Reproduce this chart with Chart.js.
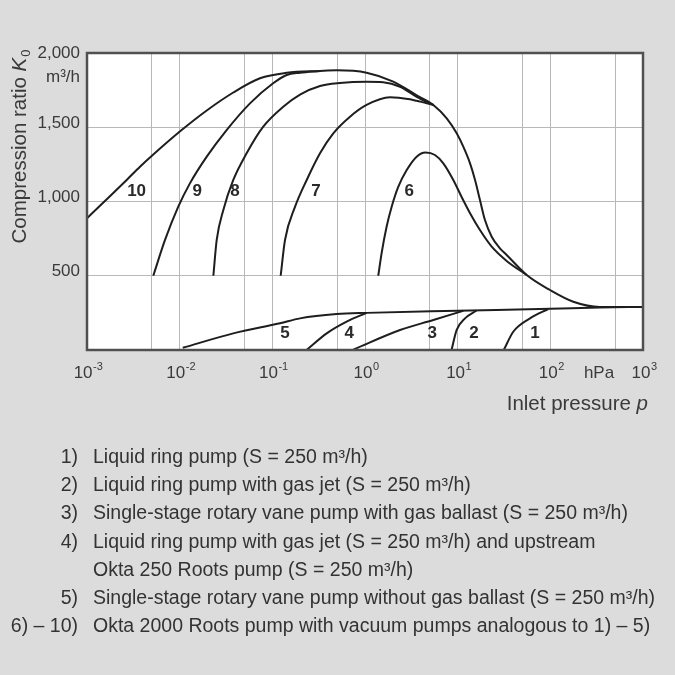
<!DOCTYPE html>
<html>
<head>
<meta charset="utf-8">
<script src="https://cdn.jsdelivr.net/npm/chart.js@4.4.0/dist/chart.umd.min.js"></script>
<style>
  html, body { margin: 0; padding: 0; background: #dcdcdc; }
  #wrap { position: relative; width: 675px; height: 675px; overflow: hidden; background: #dcdcdc; }
  #chart { position: absolute; left: 0; top: 0; }
  .note { position: absolute; left: 0; width: 675px; height: 24px; line-height: 24px;
          font-family: 'Liberation Sans', Arial, sans-serif; font-size: 19.5px; color: #333; white-space: nowrap; }
  .note .num { position: absolute; right: 597px; text-align: right; }
  .note .txt { position: absolute; left: 93px; }
</style>
</head>
<body>
<div id="wrap">
  <canvas id="chart" width="675" height="675"></canvas>
  <div id="notes"></div>
</div>
<script>
// ─── DATA (inlet pressure p in hPa, compression ratio K0) ─────
const curve1P  = [31.6, 39.8, 60.3, 95.0];
const curve1K  = [3, 123, 213, 276];
const curve2P  = [8.61, 9.76, 12.0, 16.0];
const curve2K  = [3, 135, 213, 266];
const curve3P  = [0.748, 2.39, 5.46, 11.5];
const curve3K  = [3, 135, 202, 264];
const curve4P  = [0.237, 0.386, 0.634, 1.04];
const curve4K  = [3, 112, 191, 250];
const curve5P  = [0.0108, 0.0379, 0.121, 0.199, 0.494, 1.04, 10, 100, 340, 1000];
const curve5K  = [15, 112, 180, 213, 242, 250, 264, 277, 286, 290];

const curve6P  = [1.39, 1.51, 1.71, 1.94, 2.29, 2.82, 3.61, 4.5, 5.69, 7.0, 8.97, 11.0, 13.6, 17.4, 23.3, 33.8, 55.6];
const curve6K  = [500, 651, 830, 965, 1100, 1212, 1302, 1330, 1313, 1257, 1145, 1032, 921, 808, 696, 600, 505];
const curve7P  = [0.123, 0.137, 0.176, 0.235, 0.327, 0.455, 0.689, 1.04, 1.86, 3.06, 3.61, 5.46];
const curve7K  = [500, 741, 965, 1145, 1325, 1459, 1571, 1650, 1702, 1688, 1678, 1650];
const curve8P  = [0.0231, 0.0251, 0.0296, 0.0379, 0.0528, 0.0798, 0.131, 0.199, 0.327, 0.537, 1.04, 1.57, 2.39, 3.61, 5.46];
const curve8K  = [500, 741, 943, 1145, 1325, 1504, 1638, 1720, 1778, 1798, 1806, 1803, 1773, 1705, 1650];
const curve9P  = [0.00519, 0.00695, 0.00966, 0.0129, 0.0196, 0.0321, 0.0574, 0.102, 0.143, 0.199, 0.327];
const curve9K  = [500, 741, 965, 1122, 1302, 1481, 1661, 1796, 1852, 1867, 1879];
const curve10P = [0.001, 0.00268, 0.00373, 0.00512, 0.0105, 0.0196, 0.0379, 0.0736, 0.143, 0.327, 0.494, 1.04, 2.02, 3.61, 5.46, 7.62, 9.76, 11.5, 13.6, 15.4, 17.4, 19.7, 23.3, 28.6, 33.8, 55.6, 99.1, 177, 343, 1000];
const curve10K = [887, 1145, 1234, 1313, 1481, 1613, 1734, 1830, 1867, 1879, 1883, 1867, 1807, 1715, 1650, 1560, 1459, 1369, 1257, 1145, 1010, 875, 763, 685, 640, 505, 404, 325, 290, 290];

// curve number labels, placed in data space
const curveLabels = ['1', '2', '3', '4', '5', '6', '7', '8', '9', '10'];
const curveLabelP = [68.3, 15.0, 5.32, 0.676, 0.137, 3.0, 0.296, 0.0395, 0.0155, 0.00343];
const curveLabelK = [112, 112, 112, 112, 112, 1071, 1071, 1071, 1071, 1071];

// axes
const xGridValues  = [0.001, 0.005, 0.01, 0.05, 0.1, 0.5, 1, 5, 10, 50, 100, 500, 1000];
const xTickPowers  = [-3, -2, -1, 0, 1, 2, 3];
const yTickValues  = [500, 1000, 1500, 2000];
const yTickLabels  = ['500', '1,000', '1,500', '2,000'];

// notes under the chart
const noteNums  = ['1)', '2)', '3)', '4)', '', '5)', '6) – 10)'];
const noteTexts = [
  'Liquid ring pump (S = 250 m³/h)',
  'Liquid ring pump with gas jet (S = 250 m³/h)',
  'Single-stage rotary vane pump with gas ballast (S = 250 m³/h)',
  'Liquid ring pump with gas jet (S = 250 m³/h) and upstream',
  'Okta 250 Roots pump (S = 250 m³/h)',
  'Single-stage rotary vane pump without gas ballast (S = 250 m³/h)',
  'Okta 2000 Roots pump with vacuum pumps analogous to 1) – 5)'
];


// ─── NOTES ──────────────────────────────
const notesEl = document.getElementById('notes');
notesEl.innerHTML = noteTexts.map((t, i) => `
  <div class="note" style="top:${444 + i * 28.2}px">
    <span class="num">${noteNums[i]}</span><span class="txt">${t}</span>
  </div>`).join('');


// ─── CHART ──────────────────────────────
const INK = '#1e1e1e';
const TXT = '#3a3a3a';
const FONT = "'Liberation Sans', Arial, sans-serif";

const pairs = (P, K) => P.map((p, i) => ({ x: p, y: K[i] }));
const allCurves = [
  [curve1P, curve1K], [curve2P, curve2K], [curve3P, curve3K], [curve4P, curve4K], [curve5P, curve5K],
  [curve6P, curve6K], [curve7P, curve7K], [curve8P, curve8K], [curve9P, curve9K], [curve10P, curve10K]
];

// axis texts, plot frame and curve numbers
const decorPlugin = {
  id: 'decor',
  afterDatasetsDraw(chart) {
    const { ctx, chartArea: a, scales: { x, y } } = chart;
    ctx.save();
    ctx.strokeStyle = '#505050';
    ctx.lineWidth = 2.5;
    ctx.strokeRect(a.left, a.top, a.right - a.left, a.bottom - a.top);

    ctx.fillStyle = '#2a2a2a';
    ctx.font = `bold 17px ${FONT}`;
    ctx.textAlign = 'center';
    ctx.textBaseline = 'middle';
    curveLabels.forEach((t, i) => {
      ctx.fillText(t, x.getPixelForValue(curveLabelP[i]), y.getPixelForValue(curveLabelK[i]));
    });
    ctx.restore();
  },
  afterDraw(chart) {
    const { ctx, scales: { x, y } } = chart;
    ctx.save();
    ctx.fillStyle = TXT;

    // y tick labels
    ctx.font = `17px ${FONT}`;
    ctx.textAlign = 'right';
    ctx.textBaseline = 'middle';
    yTickValues.forEach((v, i) => {
      ctx.fillText(yTickLabels[i], 80, y.getPixelForValue(v) - 4 + (v === 2000 ? 4 : 0));
    });
    ctx.fillText('m³/h', 80, 77);

    // x tick labels 10^n
    ctx.textBaseline = 'alphabetic';
    ctx.textAlign = 'left';
    xTickPowers.forEach(n => {
      const px = x.getPixelForValue(Math.pow(10, n));
      const exp = String(n);
      ctx.font = `17px ${FONT}`;
      const wb = ctx.measureText('10').width;
      ctx.font = `11px ${FONT}`;
      const we = ctx.measureText(exp).width;
      const x0 = px - (wb + we) / 2 + 1;
      ctx.font = `17px ${FONT}`;
      ctx.fillText('10', x0, 378);
      ctx.font = `11px ${FONT}`;
      ctx.fillText(exp, x0 + wb + 0.5, 370);
    });
    ctx.font = `17px ${FONT}`;
    ctx.textAlign = 'center';
    ctx.fillText('hPa', 599, 378);

    // x axis title
    ctx.textAlign = 'left';
    const t1 = 'Inlet pressure ';
    ctx.font = `italic 20.5px ${FONT}`;
    const wp = ctx.measureText('p').width;
    ctx.font = `20.5px ${FONT}`;
    const w1 = ctx.measureText(t1).width;
    const xs = 648 - w1 - wp;
    ctx.fillText(t1, xs, 410);
    ctx.font = `italic 20.5px ${FONT}`;
    ctx.fillText('p', xs + w1, 410);

    // y axis title (rotated)
    ctx.translate(26, 147);
    ctx.rotate(-Math.PI / 2);
    const t2 = 'Compression ratio ';
    ctx.font = `20.5px ${FONT}`;
    const w2 = ctx.measureText(t2).width;
    ctx.font = `italic 20.5px ${FONT}`;
    const wk = ctx.measureText('K').width;
    ctx.font = `13px ${FONT}`;
    const w0 = ctx.measureText('0').width;
    const start = -(w2 + wk + w0) / 2;
    ctx.font = `20.5px ${FONT}`;
    ctx.fillText(t2, start, 0);
    ctx.font = `italic 20.5px ${FONT}`;
    ctx.fillText('K', start + w2, 0);
    ctx.font = `13px ${FONT}`;
    ctx.fillText('0', start + w2 + wk + 1, 4);
    ctx.restore();
  }
};

new Chart(document.getElementById('chart').getContext('2d'), {
  type: 'line',
  data: {
    datasets: allCurves.map(([P, K], i) => ({
      label: 'Curve ' + (i + 1),
      data: pairs(P, K),
      borderColor: INK,
      borderWidth: 2,
      pointRadius: 0,
      fill: false,
      cubicInterpolationMode: 'monotone'
    }))
  },
  options: {
    responsive: false,
    animation: false,
    layout: { padding: { left: 87, top: 53, right: 32, bottom: 325 } },
    plugins: { legend: { display: false }, tooltip: { enabled: false } },
    scales: {
      x: {
        type: 'logarithmic',
        min: 0.001,
        max: 1000,
        afterBuildTicks: axis => { axis.ticks = xGridValues.map(v => ({ value: v })); },
        grid: { color: '#b8b8b8', lineWidth: 1, drawTicks: false },
        border: { display: false },
        ticks: { display: false }
      },
      y: {
        type: 'linear',
        min: 0,
        max: 2000,
        afterBuildTicks: axis => { axis.ticks = [0].concat(yTickValues).map(v => ({ value: v })); },
        grid: { color: '#b8b8b8', lineWidth: 1, drawTicks: false },
        border: { display: false },
        ticks: { display: false }
      }
    }
  },
  plugins: [
    {
      id: 'plotBg',
      beforeDraw(chart) {
        const { ctx, chartArea: a } = chart;
        ctx.save();
        ctx.fillStyle = '#ffffff';
        ctx.fillRect(a.left, a.top, a.right - a.left, a.bottom - a.top);
        ctx.restore();
      }
    },
    decorPlugin
  ]
});
</script>
</body>
</html>
